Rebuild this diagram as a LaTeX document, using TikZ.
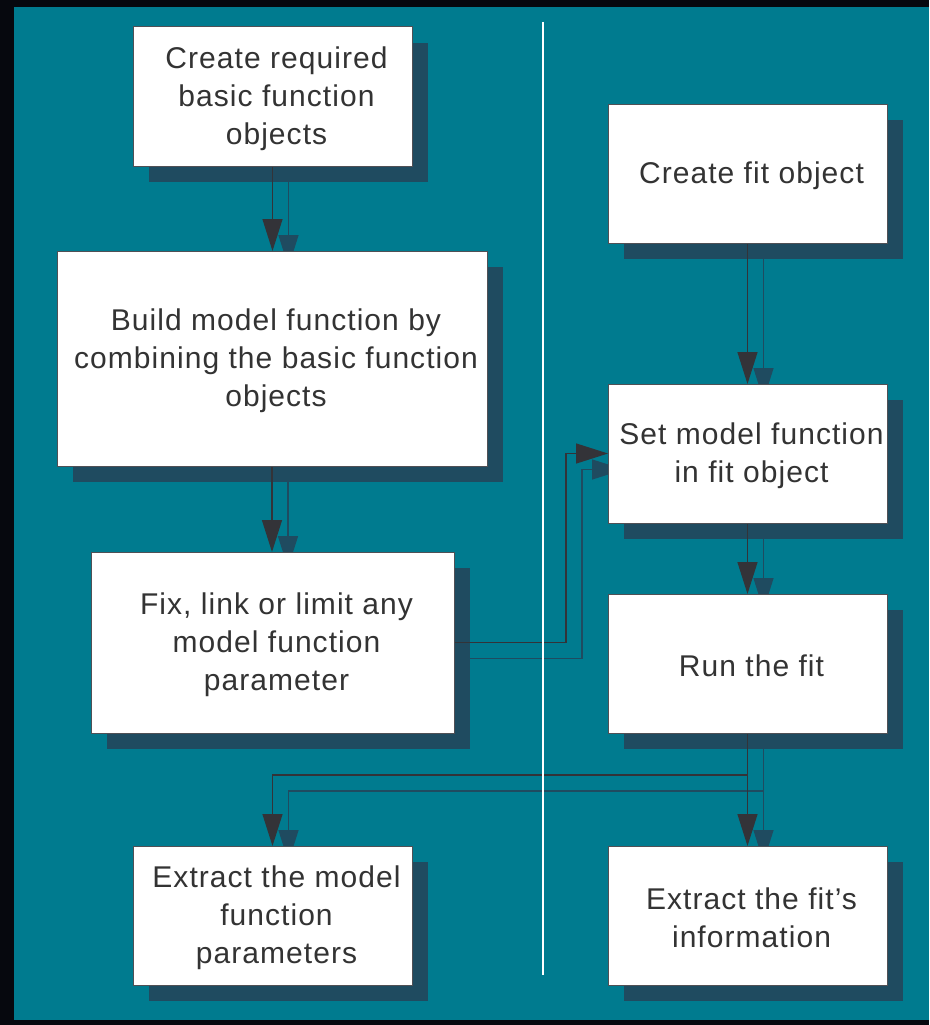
\documentclass[tikz,border=0pt]{standalone}
\usepackage{fontspec}
\usetikzlibrary{arrows.meta}
\newfontfamily\boxfont[LetterSpace=3.5]{Liberation Sans}

\definecolor{outerbg}{HTML}{06080E}
\definecolor{panel}{HTML}{007B8F}
\definecolor{shade}{HTML}{1F4B60}
\definecolor{ink}{HTML}{333338}
\definecolor{txt}{HTML}{333333}
\definecolor{rim}{HTML}{505055}

\pgfdeclarelayer{bg}
\pgfdeclarelayer{shadow}
\pgfdeclarelayer{links}
\pgfsetlayers{bg,shadow,links,main}

\tikzset{
  box/.style={draw=rim, line width=1pt, fill=white, inner sep=0pt, outer sep=0pt},
  boxtext/.style={text=txt, inner sep=0pt, align=center,
    font=\boxfont\fontsize{30}{38}\selectfont},
  sbox/.style={fill=shade, inner sep=0pt, outer sep=0pt},
  arr/.style={draw=ink, line width=1.3pt, -{Triangle[width=20pt,length=32pt]}},
  sarr/.style={draw=shade, line width=1.3pt, -{Triangle[width=20pt,length=32pt]}},
}

% a box with its offset shadow and its text: name, centre x, centre y, width, height, text
\newcommand\flowbox[6]{%
  \begin{pgfonlayer}{shadow}
    \node[sbox, minimum width=#4pt, minimum height=#5pt] (#1s) at (#2+16,#3+16) {};
  \end{pgfonlayer}
  \node[box, minimum width=#4pt, minimum height=#5pt] (#1) at (#2,#3) {};
  \node[boxtext] (#1t) at (#2+4,#3+2) {#6};%
}

\begin{document}
\begin{tikzpicture}[x=1pt, y=-1pt]
\useasboundingbox (0,0) rectangle (929,1025);
\begin{pgfonlayer}{bg}
  \fill[outerbg] (0,0) rectangle (929,1025);
  \fill[panel] (14,7) rectangle (929,1020);
\end{pgfonlayer}

% left column
\flowbox{b1}{272.5}{96.5}{279}{139}{Create required\\basic function\\objects}
\flowbox{b2}{272}{358.5}{430}{215}{Build model function by\\combining the basic function\\objects}
\flowbox{b3}{272.5}{642.5}{363}{181}{Fix, link or limit any\\model function\\parameter}
\flowbox{b4}{272.5}{915.5}{279}{139}{Extract the model\\function\\parameters}
% right column
\flowbox{b5}{747.5}{173.5}{279}{139}{Create fit object}
\flowbox{b6}{747.5}{453.5}{279}{139}{Set model function\\in fit object}
\flowbox{b7}{747.5}{663.5}{279}{139}{Run the fit}
\flowbox{b8}{747.5}{915.5}{279}{139}{Extract the fit’s\\information}

% bend points
\coordinate (k1) at (566,453.5);
\coordinate (k1s) at (582,469.5);
\coordinate (k2) at (0,775);
\coordinate (k2s) at (0,791);

% shadow connectors
\begin{pgfonlayer}{shadow}
  \draw[sarr] (b1s.south) -- (b1s.south |- b2s.north);
  \draw[sarr] (b2s.south) -- (b2s.south |- b3s.north);
  \draw[sarr] (b3s.east) -| (k1s |- b6s.west) -- (b6s.west);
  \draw[sarr] (b5s.south) -- (b6s.north);
  \draw[sarr] (b6s.south) -- (b7s.north);
  \draw[sarr] (b7s.south) -- (b8s.north);
  \draw[sarr] (b7s.south) -- (b7s.south |- k2s) -| (b4s.north);
\end{pgfonlayer}

% connectors
\begin{pgfonlayer}{links}
  \draw[arr] (b1.south) -- (b1.south |- b2.north);
  \draw[arr] (b2.south) -- (b2.south |- b3.north);
  \draw[arr] (b3.east) -| (k1 |- b6.west) -- (b6.west);
  \draw[arr] (b5.south) -- (b6.north);
  \draw[arr] (b6.south) -- (b7.north);
  \draw[arr] (b7.south) -- (b8.north);
  \draw[arr] (b7.south) -- (b7.south |- k2) -| (b4.north);
\end{pgfonlayer}

% column divider
\coordinate (d1) at (543,22);
\coordinate (d2) at (543,975);
\draw[white, line width=2pt] (d1) -- (d2);
\end{tikzpicture}
\end{document}
